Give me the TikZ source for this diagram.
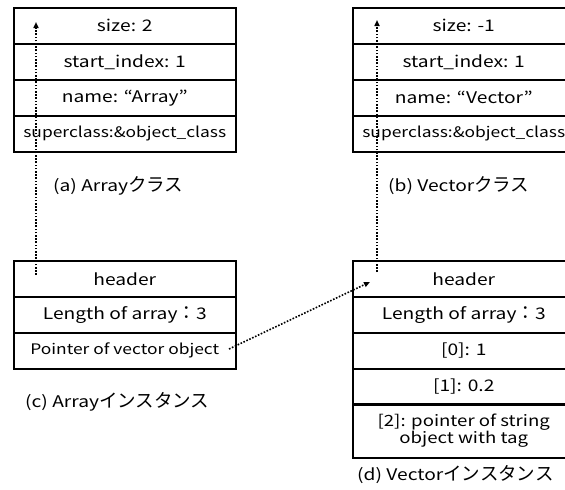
\documentclass[tikz,border=0pt]{standalone}
\usepackage{fontspec}
\setmainfont{Noto Sans CJK JP}[FakeStretch=1.2]
\newfontfamily\jp{Noto Sans CJK JP}
\usetikzlibrary{arrows.meta}
\newcommand{\kana}[1]{{\jp\fontsize{18.5}{18}\selectfont #1}}
\tikzset{
  cell/.style={draw, line width=1.5pt, minimum width=222pt, minimum height=36pt,
    anchor=north west, inner sep=0pt, font=\fontsize{16}{18}\selectfont},
  smallcell/.style={cell, font=\fontsize{14.5}{16}\selectfont},
  caption/.style={anchor=west, inner sep=0pt, font=\fontsize{16}{18}\selectfont},
  ptr/.style={line width=1.6pt, dash pattern=on 1.6pt off 1.6pt,
    -{Triangle[length=6pt,width=5pt]}}
}
\begin{document}
\begin{tikzpicture}[x=1pt,y=-1pt]
\useasboundingbox (0,0) rectangle (565,490);
% (a) Array class
\node[cell] (as) at (13,7) {size: 2};
\node[cell] (ai) at (13,43) {start\_index: 1};
\node[cell] (an) at (13,79) {name: “Array”};
\node[smallcell] (ac) at (13,115) {superclass:\&object\_class};
\node[caption] (acap) at (53,186) {(a) Array\kana{クラス}};
% (b) Vector class
\node[cell] (bs) at (352,7) {size: -1};
\node[cell] (bi) at (352,43) {start\_index: 1};
\node[cell] (bn) at (352,79) {name: “Vector”};
\node[smallcell] (bc) at (352,115) {superclass:\&object\_class};
\node[caption] (bcap) at (388,186) {(b) Vector\kana{クラス}};
% (c) Array instance
\node[cell] (ch) at (13,260) {header};
\node[cell] (cl) at (13,296) {Length of array\kana{：}3};
\node[smallcell] (cp) at (13,332) {Pointer of vector object};
\node[caption] (ccap) at (25,402) {(c) Array\kana{インスタンス}};
% (d) Vector instance
\node[cell] (dh) at (352,260) {header};
\node[cell] (dl) at (352,296) {Length of array\kana{：}3};
\node[cell] (d0) at (352,332) {[0]: 1};
\node[cell] (d1) at (352,368) {[1]: 0.2};
\node[cell, minimum height=54pt, align=center, font=\fontsize{15.5}{15.5}\selectfont] (d2) at (352,403)
  {[2]: pointer of string\\object with tag};
\node[caption] (dcap) at (357,475) {(d) Vector\kana{インスタンス}};
% class pointers held in the headers
\coordinate (chp) at (36,275);
\coordinate (asp) at (36,22);
\coordinate (dhp) at (377,272);
\coordinate (bsp) at (377,20);
\coordinate (cpp) at (229,349);
\coordinate (dhe) at (370,282);
\draw[ptr] (chp) -- (asp);
\draw[ptr] (dhp) -- (bsp);
\draw[ptr] (cpp) -- (dhe);
\end{tikzpicture}
\end{document}
